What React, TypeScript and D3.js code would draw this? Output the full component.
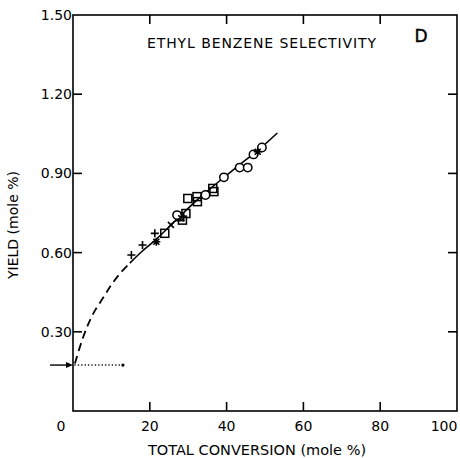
import React from "react";
import * as d3 from "d3";

const W = 460;
const H = 458;

const xTicks = [0, 20, 40, 60, 80, 100];
const yTicks = [0.3, 0.6, 0.9, 1.2, 1.5];
const xTickLabels = ["0", "20", "40", "60", "80", "100"];
const yTickLabels = ["0.30", "0.60", "0.90", "1.20", "1.50"];

// markers
const plusPts: [number, number][] = [
  [15.2, 0.591],
  [18.1, 0.629],
  [21.3, 0.673],
];
const crossPts: [number, number][] = [
  [25.5, 0.705],
  [28.2, 0.73],
];
const starPts: [number, number][] = [
  [21.7, 0.641],
  [48.1, 0.982],
];
const squarePts: [number, number][] = [
  [23.9, 0.673],
  [27.8, 0.736],
  [28.5, 0.723],
  [29.4, 0.748],
  [29.9, 0.805],
  [32.3, 0.812],
  [32.4, 0.793],
  [36.4, 0.843],
  [36.7, 0.831],
];
const circlePts: [number, number][] = [
  [27.1, 0.742],
  [34.5, 0.818],
  [39.3, 0.885],
  [43.4, 0.922],
  [45.5, 0.922],
  [47.0, 0.972],
  [49.2, 0.998],
];

const solidCurve: [number, number][] = [
  [14.8, 0.56],
  [18, 0.605],
  [21.5, 0.648],
  [25, 0.697],
  [28, 0.74],
  [32, 0.795],
  [36, 0.845],
  [40, 0.893],
  [44, 0.94],
  [48, 0.985],
  [53.2, 1.053],
];
const dashedCurve: [number, number][] = [
  [0.5, 0.18],
  [2.3, 0.265],
  [4, 0.33],
  [5.7, 0.38],
  [7.9, 0.43],
  [10, 0.478],
  [12.2, 0.52],
  [14.8, 0.56],
];
const initialYield = 0.174;
const dottedEnd = 13;
const arrowStart = -6;

const x = d3.scaleLinear().domain([0, 100]).range([73, 457]);
const y = d3.scaleLinear().domain([0, 1.5]).range([411, 15]);

const FONT = "'DejaVu Sans', sans-serif";

export default function App() {
  const line = d3
    .line<[number, number]>()
    .x((d) => x(d[0]))
    .y((d) => y(d[1]))
    .curve(d3.curveCatmullRom);

  const x0 = x(0), x1 = x(100), y0 = y(0), y1 = y(1.5);
  const tickLen = 9;
  const sw = 1.6;

  return (
    <svg
      width={W}
      height={H}
      style={{ position: "absolute", left: 0, top: 0, background: "#fff" }}
    >
      <rect x={0} y={0} width={W} height={H} fill="#fff" />
      {/* frame */}
      <rect
        x={x0}
        y={y1}
        width={x1 - x0}
        height={y0 - y1}
        fill="none"
        stroke="#000"
        strokeWidth={sw}
      />
      {/* x ticks bottom & top */}
      {xTicks.slice(1, -1).map((t) => (
        <g key={"xt" + t}>
          <line x1={x(t)} x2={x(t)} y1={y0} y2={y0 - tickLen} stroke="#000" strokeWidth={sw} />
          <line x1={x(t)} x2={x(t)} y1={y1} y2={y1 + tickLen} stroke="#000" strokeWidth={sw} />
        </g>
      ))}
      {/* y ticks left & right */}
      {yTicks.slice(0, -1).map((t) => (
        <g key={"yt" + t}>
          <line x1={x0} x2={x0 + tickLen} y1={y(t)} y2={y(t)} stroke="#000" strokeWidth={sw} />
          <line x1={x1} x2={x1 - tickLen} y1={y(t)} y2={y(t)} stroke="#000" strokeWidth={sw} />
        </g>
      ))}
      {/* x tick labels */}
      {xTicks.map((t, i) => (
        <text
          key={"xl" + t}
          x={x(t) + (t === 0 ? -12 : t === 100 ? -13 : 0)}
          y={431}
          textAnchor="middle"
          fontFamily={FONT}
          fontSize={14}
        >
          {xTickLabels[i]}
        </text>
      ))}
      {/* y tick labels */}
      {yTicks.map((t, i) => (
        <text
          key={"yl" + t}
          x={x0 - 1}
          y={y(t) + 5}
          textAnchor="end"
          fontFamily={FONT}
          fontSize={14}
        >
          {yTickLabels[i]}
        </text>
      ))}
      {/* axis titles */}
      <text x={257} y={455} textAnchor="middle" fontFamily={FONT} fontSize={14.5}>
        TOTAL CONVERSION (mole %)
      </text>
      <text
        transform={`translate(18,${225}) rotate(-90)`}
        textAnchor="middle"
        fontFamily={FONT}
        fontSize={14}
      >
        YIELD (mole %)
      </text>
      {/* chart title */}
      <text x={262} y={48} textAnchor="middle" fontFamily={FONT} fontSize={14} letterSpacing={0.9}>
        ETHYL BENZENE SELECTIVITY
      </text>
      <text x={421} y={42} textAnchor="middle" fontFamily={FONT} fontSize={17} stroke="#000" strokeWidth={0.4}>
        D
      </text>

      {/* curves */}
      <path d={line(dashedCurve) || ""} fill="none" stroke="#000" strokeWidth={1.8} strokeDasharray="8,5" />
      <path d={line(solidCurve) || ""} fill="none" stroke="#000" strokeWidth={1.6} />

      {/* dotted initial yield */}
      <line
        x1={x(0) + 2}
        x2={x(dottedEnd)}
        y1={y(initialYield)}
        y2={y(initialYield)}
        stroke="#000"
        strokeWidth={1.6}
        strokeDasharray="0.1,3.3"
        strokeLinecap="round"
      />
      <circle cx={x(dottedEnd)} cy={y(initialYield)} r={1.6} fill="#000" />
      {/* arrow */}
      <line
        x1={x(arrowStart)}
        x2={x(0) - 5}
        y1={y(initialYield)}
        y2={y(initialYield)}
        stroke="#000"
        strokeWidth={1.4}
      />
      <path
        d={`M${x(0)},${y(initialYield)} L${x(0) - 7},${y(initialYield) - 3} L${x(0) - 7},${y(initialYield) + 3} Z`}
        fill="#000"
      />

      {/* markers */}
      {squarePts.map((d, i) => (
        <rect
          key={"s" + i}
          x={x(d[0]) - 4}
          y={y(d[1]) - 4}
          width={8}
          height={8}
          fill="#fff"
          fillOpacity={0}
          stroke="#000"
          strokeWidth={1.5}
        />
      ))}
      {circlePts.map((d, i) => (
        <circle
          key={"c" + i}
          cx={x(d[0])}
          cy={y(d[1])}
          r={4.2}
          fill="#fff"
          stroke="#000"
          strokeWidth={1.5}
        />
      ))}
      {plusPts.map((d, i) => {
        const cx = x(d[0]), cy = y(d[1]);
        return (
          <path
            key={"p" + i}
            d={`M${cx - 4},${cy}H${cx + 4}M${cx},${cy - 4}V${cy + 4}`}
            stroke="#000"
            strokeWidth={1.6}
          />
        );
      })}
      {crossPts.map((d, i) => {
        const cx = x(d[0]), cy = y(d[1]);
        return (
          <path
            key={"x" + i}
            d={`M${cx - 3},${cy - 3}L${cx + 3},${cy + 3}M${cx - 3},${cy + 3}L${cx + 3},${cy - 3}`}
            stroke="#000"
            strokeWidth={1.6}
          />
        );
      })}
      {starPts.map((d, i) => {
        const cx = x(d[0]), cy = y(d[1]);
        return (
          <path
            key={"st" + i}
            d={`M${cx - 4},${cy}H${cx + 4}M${cx},${cy - 4}V${cy + 4}M${cx - 3},${cy - 3}L${cx + 3},${cy + 3}M${cx - 3},${cy + 3}L${cx + 3},${cy - 3}`}
            stroke="#000"
            strokeWidth={1.6}
          />
        );
      })}
    </svg>
  );
}
